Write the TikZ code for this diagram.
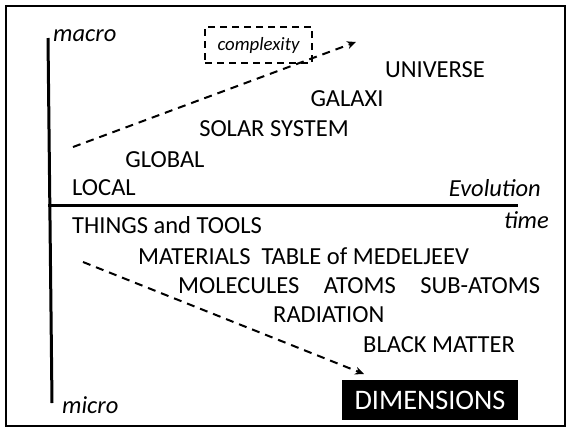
\documentclass[tikz,border=0pt]{standalone}
\usepackage{fontspec}
\setmainfont{Carlito}
\usetikzlibrary{arrows.meta}
\begin{document}
\begin{tikzpicture}[x=1pt,y=-1pt,
  lbl/.style={inner sep=0pt,font=\fontsize{24.5}{27}\selectfont},
  ital/.style={inner sep=0pt,font=\fontsize{24.5}{27}\selectfont\itshape},
  axis/.style={line width=3pt},
  darrow/.style={line width=2pt,dash pattern=on 8pt off 6pt,-{Stealth[length=9pt,width=8pt]}}]
\useasboundingbox (0,0) rectangle (568,429);
\draw[line width=2.8pt] (6,6) rectangle (565,426);
% axes
\coordinate (vtop) at (48,38);
\coordinate (vbot) at (52,403);
\coordinate (hl) at (48,205);
\coordinate (hr) at (518,205);
\draw[axis] (vtop) -- (vbot);
\draw[axis] (hl) -- (hr);
% labels
\node[ital,anchor=west] (macro) at (53,36) {macro};
\node[ital,anchor=west] (micro) at (62,405) {micro};
\node[ital,anchor=east] (evol) at (541,188) {Evolution};
\node[ital,anchor=east] (time) at (549,220) {time};
\node[draw,line width=1.8pt,dash pattern=on 7pt off 5pt,minimum width=107pt,minimum height=36pt,inner sep=0pt,font=\fontsize{18.8}{21}\selectfont\itshape] (cx) at (258.5,45) {complexity};
\node[lbl] (univ) at (435,70) {UNIVERSE};
\node[lbl] (gal) at (347,99) {GALAXI};
\node[lbl] (sol) at (274,129) {SOLAR SYSTEM};
\node[lbl] (glob) at (165,160) {GLOBAL};
\node[lbl,anchor=west] (loc) at (72,188) {LOCAL};
\node[lbl,anchor=west] (things) at (72,225) {THINGS and TOOLS};
\node[lbl,anchor=west] (mat) at (138,256) {MATERIALS\ \ TABLE of MEDELJEEV};
\node[lbl,anchor=west] (mol) at (178,286) {MOLECULES\quad ATOMS\quad SUB-ATOMS};
\node[lbl,anchor=west] (rad) at (273,315) {RADIATION};
\node[lbl,anchor=west] (black) at (363,345) {BLACK MATTER};
\node[fill=black,text=white,minimum width=176pt,minimum height=40pt,inner sep=0pt,font=\fontsize{28.3}{31}\selectfont] (dim) at (430,400) {DIMENSIONS};
% arrows
\coordinate (a1s) at (73,147);
\coordinate (a1e) at (356,42);
\coordinate (a2s) at (83,262);
\coordinate (a2e) at (364,374);
\draw[darrow] (a1s) -- (a1e);
\draw[darrow] (a2s) -- (a2e);
\end{tikzpicture}
\end{document}
